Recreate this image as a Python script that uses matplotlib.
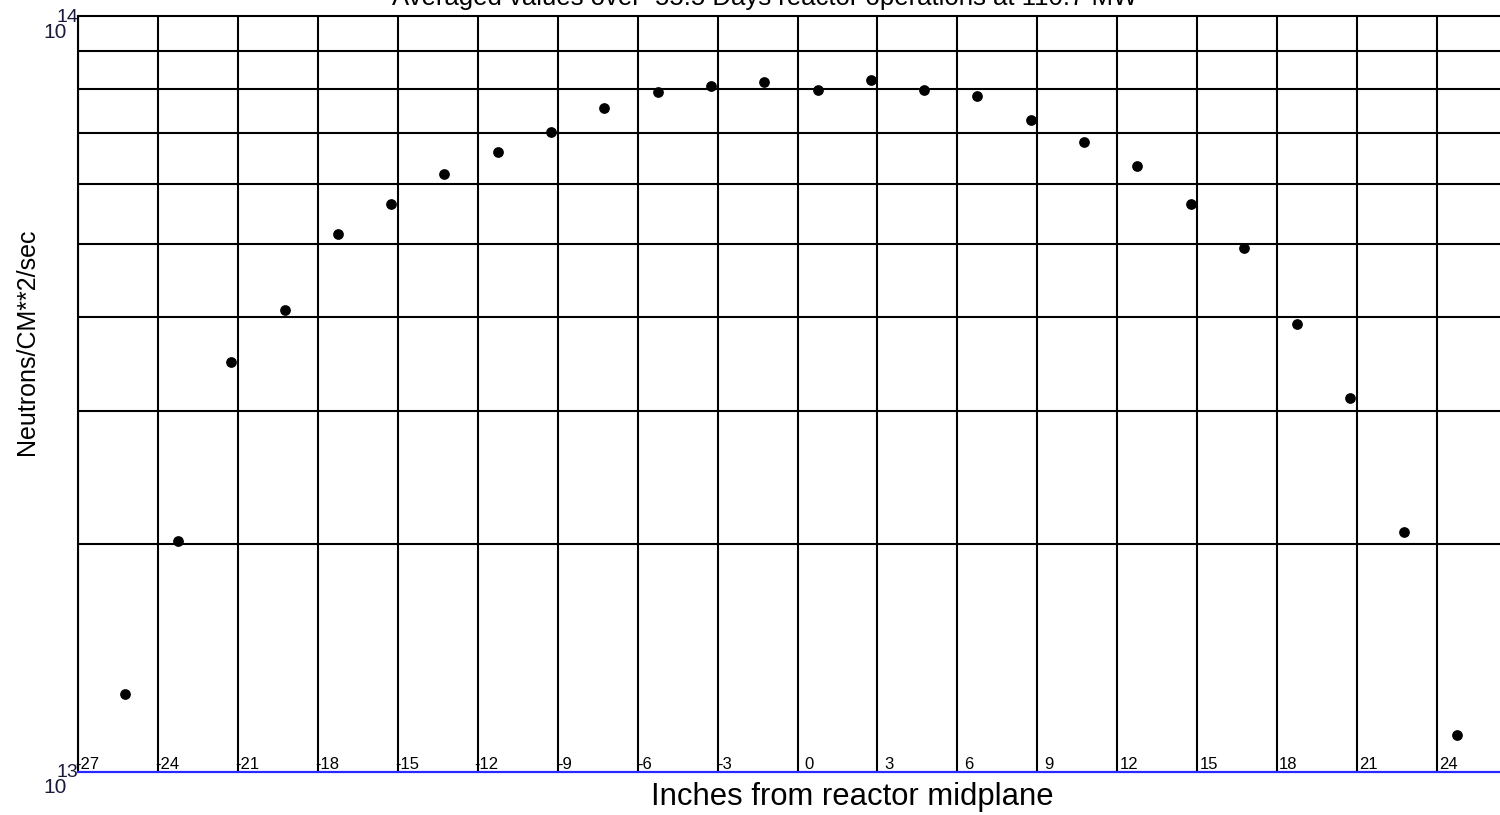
import matplotlib
matplotlib.use("Agg")
import matplotlib.pyplot as plt
import numpy as np

# ---- data ----
positions = [-25.25, -23.25, -21.25, -19.25, -17.25, -15.25, -13.25, -11.25, -9.25,
             -7.25, -5.25, -3.25, -1.25, 0.75, 2.75, 4.75, 6.75, 8.75, 10.75,
             12.75, 14.75, 16.75, 18.75, 20.75, 22.75, 24.75]
flux = [1.27e13, 2.02e13, 3.49e13, 4.08e13, 5.15e13, 5.64e13, 6.18e13, 6.61e13, 7.02e13,
        7.55e13, 7.93e13, 8.08e13, 8.18e13, 7.98e13, 8.23e13, 7.98e13, 7.84e13, 7.29e13,
        6.81e13, 6.33e13, 5.64e13, 4.93e13, 3.91e13, 3.12e13, 2.08e13, 1.12e13]
xtick_vals = list(range(-27, 25, 3))
xtick_labels = [str(v) for v in xtick_vals]

title = "Averaged values over  55.5 Days reactor operations at 110.7 MW"
xlabel = "Inches from reactor midplane"
ylabel = "Neutrons/CM**2/sec"

plt.rcParams['font.family'] = ['Liberation Sans', 'DejaVu Sans']

W, H = 1500, 815
fig = plt.figure(figsize=(W / 100, H / 100), dpi=100)

def fx(px):
    return px / W

def fy(py):
    return 1 - py / H

ax = fig.add_axes([fx(78), fy(772), fx(1500) - fx(78), fy(16) - fy(772)])
ax.set_yscale('log')
ax.set_ylim(1e13, 1e14)
ax.set_xlim(-27, 26.36)

# grid lines
for xv in range(-27, 28, 3):
    ax.axvline(xv, color='black', lw=1.5, zorder=1)
for m in range(2, 10):
    ax.axhline(m * 1e13, color='black', lw=1.5, zorder=1)

ax.set_xticks([])
ax.set_yticks([])
ax.minorticks_off()
ax.tick_params(which='both', length=0, labelleft=False, labelbottom=False)

for s in ['top', 'left']:
    ax.spines[s].set_color('black')
    ax.spines[s].set_linewidth(1.5)
ax.spines['right'].set_visible(False)
ax.spines['bottom'].set_color('#2828ff')
ax.spines['bottom'].set_linewidth(1.6)

ax.scatter(positions, flux, s=45, color='black', zorder=3, clip_on=False)

for xv, lab in zip(xtick_vals, xtick_labels):
    neg = lab.startswith('-')
    ndig = len(lab.lstrip('-'))
    if neg:
        off = -3 if ndig == 2 else 0
    else:
        off = 2 if ndig == 2 else 7
    ax.annotate(lab, xy=(xv, 1e13), xytext=(off, 3), textcoords='offset pixels',
                ha='left', va='baseline', fontsize=12, color='black', zorder=4)

# y decade labels
fig.text(fx(43), fy(38), "10", fontsize=15, ha='left', va='baseline', color='#1a1a3a')
fig.text(fx(57), fy(22), "14", fontsize=14, ha='left', va='baseline', color='#1a1a3a')
fig.text(fx(43), fy(793), "10", fontsize=15, ha='left', va='baseline', color='#1a1a3a')
fig.text(fx(57), fy(777), "13", fontsize=14, ha='left', va='baseline', color='#1a1a3a')

fig.text(fx(852), fy(805), xlabel, fontsize=22.3, ha='center', va='baseline')
fig.text(fx(27), fy(342), ylabel, fontsize=18, rotation=90, ha='center', va='center')
fig.text(fx(765), fy(5), title, fontsize=18.5, ha='center', va='baseline')

fig.savefig("out.png", dpi=100)
